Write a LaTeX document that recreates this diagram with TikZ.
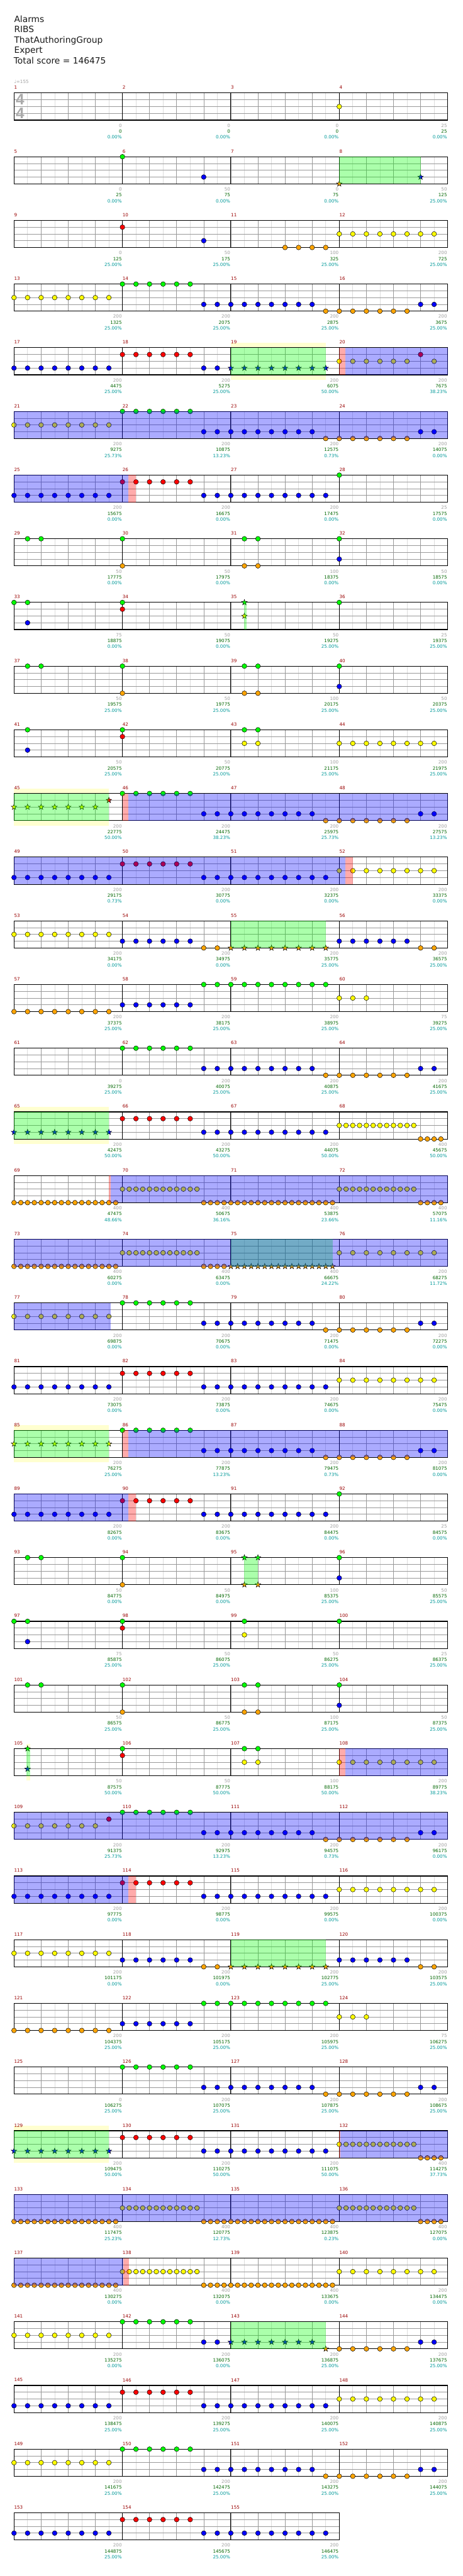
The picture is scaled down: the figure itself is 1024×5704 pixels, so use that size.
\documentclass[tikz,border=0pt]{standalone}
\usepackage{fontspec}
\setmainfont{DejaVu Sans}
\newfontfamily\tsf{Liberation Sans}
\definecolor{ln0}{RGB}{0,255,0}
\definecolor{ln1}{RGB}{255,0,0}
\definecolor{ln2}{RGB}{255,255,0}
\definecolor{ln3}{RGB}{0,0,255}
\definecolor{ln4}{RGB}{255,165,0}
\definecolor{mnred}{RGB}{153,0,0}
\definecolor{sgray}{RGB}{160,160,160}
\definecolor{cgrn}{RGB}{0,102,0}
\definecolor{pteal}{RGB}{0,153,153}
\definecolor{lgr}{RGB}{221,221,221}
\definecolor{mgr}{RGB}{153,153,153}
\definecolor{ybc}{RGB}{255,255,208}
\definecolor{tsc}{RGB}{170,170,170}
\definecolor{ovg}{RGB}{0,255,0}
\definecolor{ovb}{RGB}{0,0,255}
\definecolor{ovr}{RGB}{255,0,0}
\newcommand\lf{\fontsize{5}{6}\selectfont}
\tikzset{
  notec/.style={draw=black,line width=0.35pt},
  lgrid/.style={draw=lgr,line width=0.5pt},
  mgrid/.style={draw=mgr,line width=0.5pt},
  barline/.style={draw=black,line width=0.75pt},
  mnum/.style={font=\lf,text=mnred,inner sep=0pt,anchor=west},
  sa/.style={font=\lf,text=sgray,inner sep=0pt,anchor=east},
  sb/.style={font=\lf,text=cgrn,inner sep=0pt,anchor=east},
  sc/.style={font=\lf,text=pteal,inner sep=0pt,anchor=east},
  ttl/.style={font=\fontsize{9.6}{11.5}\selectfont,text=black!90,inner sep=0pt,anchor=base west},
  tsig/.style={font=\tsf\bfseries\fontsize{17}{17}\selectfont,text=tsc,inner sep=0pt},
}
\newcommand\nts[2]{\foreach \p in {#2}{\filldraw[notec,fill=ln#1] ({31+30*\p},{15*#1}) circle[radius=5.3];}}
\newcommand\sts[2]{\foreach \p in {#2}{\filldraw[notec,fill=ln#1,shift={({31+30*\p},{15*#1})}] (-90:6.5)--(-54:2.6)--(-18:6.5)--(18:2.6)--(54:6.5)--(90:2.6)--(126:6.5)--(162:2.6)--(198:6.5)--(234:2.6)--cycle;}}
\newcommand\ov[3]{\fill[#1,opacity=.33] (#2,0) rectangle (#3,60);}
\newcommand\yb[2]{\fill[ybc] (#1,-11) rectangle (#2,71);}
\newcommand\mystaff[1]{%
  \fill[white] (31,0) rectangle ({31+30*#1},60);
  \foreach \p in {1,3,...,#1}{\draw[lgrid] ({31+30*\p},0) -- ({31+30*\p},60);}
  \foreach \p in {2,4,...,#1}{\draw[mgrid] ({31+30*\p},0) -- ({31+30*\p},60);}
  \foreach \l in {1,2,3}{\draw[mgrid] (31,{15*\l}) -- ({31+30*#1},{15*\l});}
  \foreach \p in {8,16,...,#1}{\draw[barline] ({31+30*\p},0) -- ({31+30*\p},60);}
  \draw[barline] (31,0) rectangle ({31+30*#1},60);}
\newcommand\labs[2]{\foreach \j/\va/\vb/\vc in {#2}{%
  \pgfmathtruncatemacro\mm{4*#1+\j+1}%
  \node[mnum] (mn\mm) at ({31+240*\j},-12) {\mm};
  \node[sa] (sa\mm) at ({30+240*(\j+1)},72) {\va};
  \node[sb] (sb\mm) at ({30+240*(\j+1)},85) {\vb};
  \node[sc] (sc\mm) at ({30+240*(\j+1)},98) {\vc\%};}}
\begin{document}
\begin{tikzpicture}[x=0.5pt,y=-0.5pt]
\useasboundingbox (0,0) rectangle (1024,5704);
\fill[white] (0,0) rectangle (1024,5704);
\node[ttl] (t1) at (31,49) {Alarms};
\node[ttl] (t2) at (31,72) {RIBS};
\node[ttl] (t3) at (31,95) {ThatAuthoringGroup};
\node[ttl] (t4) at (31,118) {Expert};
\node[ttl] (t5) at (30,141) {Total score = 146475};
\node[font=\lf,text=sgray,inner sep=0pt,anchor=west] (tempo) at (31,181) {♩=155};
% row 0
\begin{scope}[shift={(0,206+141*0)}]
\mystaff{32}
\node[tsig] (tsa) at (44.5,14.5) {4};
\node[tsig] (tsb) at (44.5,45) {4};
\nts2{24}
\labs{0}{0/0/0/0.00,1/0/0/0.00,2/0/0/0.00,3/25/25/0.00}
\end{scope}
% row 1
\begin{scope}[shift={(0,206+141*1)}]
\mystaff{32}
\nts0{8}\nts3{14}\sts4{24}\sts3{30}
\ov{ovg}{751}{931}
\labs{1}{0/0/25/0.00,1/50/75/0.00,2/0/75/0.00,3/50/125/25.00}
\end{scope}
% row 2
\begin{scope}[shift={(0,206+141*2)}]
\mystaff{32}
\nts1{8}\nts3{14}\nts4{20,...,23}\nts2{24,...,31}
\labs{2}{0/0/125/25.00,1/50/175/25.00,2/100/325/25.00,3/200/725/25.00}
\end{scope}
% row 3
\begin{scope}[shift={(0,206+141*3)}]
\mystaff{32}
\nts2{0,...,7}\nts0{8,...,13}\nts3{14,...,22}\nts4{23,...,29}\nts3{30,31}
\labs{3}{0/200/1325/25.00,1/200/2075/25.00,2/200/2875/25.00,3/200/3675/25.00}
\end{scope}
% row 4
\begin{scope}[shift={(0,206+141*4)}]
\yb{511}{721}
\mystaff{32}
\nts3{0,...,7}\nts1{8,...,13}\nts3{14,15}\sts3{16,...,23}\nts2{24,...,29}\nts2{31}\nts1{30}
\ov{ovg}{511}{721}\ov{ovr}{751}{764}\ov{ovb}{764}{991}
\labs{4}{0/200/4475/25.00,1/200/5275/25.00,2/200/6075/50.00,3/200/7675/38.23}
\end{scope}
% row 5
\begin{scope}[shift={(0,206+141*5)}]
\mystaff{32}
\nts2{0,...,7}\nts0{8,...,13}\nts3{14,...,22}\nts4{23,...,29}\nts3{30,31}
\ov{ovb}{31}{991}
\labs{5}{0/200/9275/25.73,1/200/10875/13.23,2/200/12575/0.73,3/200/14075/0.00}
\end{scope}
% row 6
\begin{scope}[shift={(0,206+141*6)}]
\mystaff{32}
\nts3{0,...,7}\nts1{8,...,13}\nts3{14,...,23}\nts0{24}
\ov{ovb}{31}{284}\ov{ovr}{284}{301}
\labs{6}{0/200/15675/0.00,1/200/16675/0.00,2/200/17475/0.00,3/25/17575/0.00}
\end{scope}
% row 7
\begin{scope}[shift={(0,206+141*7)}]
\mystaff{32}
\nts0{1,2,8,17,18,24}\nts4{8,17,18}\nts3{24}
\labs{7}{0/50/17775/0.00,1/50/17975/0.00,2/100/18375/0.00,3/50/18575/0.00}
\end{scope}
% row 8
\begin{scope}[shift={(0,206+141*8)}]
\mystaff{32}
\nts0{0,1,8,24}\nts3{1}\nts1{8}\sts0{17}\sts2{17}
\ov{ovg}{540}{546}
\labs{8}{0/75/18875/0.00,1/50/19075/0.00,2/50/19275/25.00,3/25/19375/25.00}
\end{scope}
% row 9
\begin{scope}[shift={(0,206+141*9)}]
\mystaff{32}
\nts0{1,2,8,17,18,24}\nts4{8,17,18}\nts3{24}
\labs{9}{0/50/19575/25.00,1/50/19775/25.00,2/100/20175/25.00,3/50/20375/25.00}
\end{scope}
% row 10
\begin{scope}[shift={(0,206+141*10)}]
\mystaff{32}
\nts0{1,8,17,18}\nts3{1}\nts1{8}\nts2{17,18}\nts2{24,...,31}
\labs{10}{0/50/20575/25.00,1/50/20775/25.00,2/100/21175/25.00,3/200/21975/25.00}
\end{scope}
% row 11
\begin{scope}[shift={(0,206+141*11)}]
\yb{31}{241}
\mystaff{32}
\sts2{0,...,6}\sts1{7}\nts0{8,...,13}\nts3{14,...,22}\nts4{23,...,29}\nts3{30,31}
\ov{ovg}{31}{241}\ov{ovr}{271}{284}\ov{ovb}{284}{991}
\labs{11}{0/200/22775/50.00,1/200/24475/38.23,2/200/25975/25.73,3/200/27575/13.23}
\end{scope}
% row 12
\begin{scope}[shift={(0,206+141*12)}]
\mystaff{32}
\nts3{0,...,7}\nts1{8,...,13}\nts3{14,...,23}\nts2{24,...,31}
\ov{ovb}{31}{764}\ov{ovr}{764}{781}
\labs{12}{0/200/29175/0.73,1/200/30775/0.00,2/200/32375/0.00,3/200/33375/0.00}
\end{scope}
% row 13
\begin{scope}[shift={(0,206+141*13)}]
\mystaff{32}
\nts2{0,...,7}\nts3{8,...,13}\nts4{14,15}\sts4{16,...,23}\nts3{24,...,29}\nts4{30,31}
\ov{ovg}{511}{721}
\labs{13}{0/200/34175/0.00,1/200/34975/0.00,2/200/35775/25.00,3/200/36575/25.00}
\end{scope}
% row 14
\begin{scope}[shift={(0,206+141*14)}]
\mystaff{32}
\nts4{0,...,7}\nts3{8,...,13}\nts0{14,...,23}\nts2{24,25,26}
\labs{14}{0/200/37375/25.00,1/200/38175/25.00,2/200/38975/25.00,3/75/39275/25.00}
\end{scope}
% row 15
\begin{scope}[shift={(0,206+141*15)}]
\mystaff{32}
\nts0{8,...,13}\nts3{14,...,22}\nts4{23,...,29}\nts3{30,31}
\labs{15}{0/0/39275/25.00,1/200/40075/25.00,2/200/40875/25.00,3/200/41675/25.00}
\end{scope}
% row 16
\begin{scope}[shift={(0,206+141*16)}]
\yb{31}{241}
\mystaff{32}
\sts3{0,...,7}\nts1{8,...,13}\nts3{14,...,23}\nts2{24,24.5,...,29.5}\nts4{30,30.5,...,31.5}
\ov{ovg}{31}{241}
\labs{16}{0/200/42475/50.00,1/200/43275/50.00,2/200/44075/50.00,3/400/45675/50.00}
\end{scope}
% row 17
\begin{scope}[shift={(0,206+141*17)}]
\mystaff{32}
\nts4{0,0.5,...,7.5}\nts2{8,8.5,...,13.5}\nts4{14,14.5,...,23.5}\nts2{24,24.5,...,29.5}\nts4{30,30.5,...,31.5}
\ov{ovr}{241}{245}\ov{ovb}{245}{991}
\labs{17}{0/400/47475/48.66,1/400/50675/36.16,2/400/53875/23.66,3/400/57075/11.16}
\end{scope}
% row 18
\begin{scope}[shift={(0,206+141*18)}]
\mystaff{32}
\nts4{0,0.5,...,7.5}\nts2{8,8.5,...,13.5}\nts4{14,14.5,...,15.5}\sts4{16,16.5,...,23.5}\nts2{24,...,31}
\ov{ovg}{511}{736}\ov{ovb}{31}{991}
\labs{18}{0/400/60275/0.00,1/400/63475/0.00,2/400/66675/24.22,3/200/68275/11.72}
\end{scope}
% row 19
\begin{scope}[shift={(0,206+141*19)}]
\mystaff{32}
\nts2{0,...,7}\nts0{8,...,13}\nts3{14,...,22}\nts4{23,...,29}\nts3{30,31}
\ov{ovb}{31}{245}
\labs{19}{0/200/69875/0.00,1/200/70675/0.00,2/200/71475/0.00,3/200/72275/0.00}
\end{scope}
% row 20
\begin{scope}[shift={(0,206+141*20)}]
\mystaff{32}
\nts3{0,...,7}\nts1{8,...,13}\nts3{14,...,23}\nts2{24,...,31}
\labs{20}{0/200/73075/0.00,1/200/73875/0.00,2/200/74675/0.00,3/200/75475/0.00}
\end{scope}
% row 21
\begin{scope}[shift={(0,206+141*21)}]
\yb{31}{241}
\mystaff{32}
\sts2{0,...,7}\nts0{8,...,13}\nts3{14,...,22}\nts4{23,...,29}\nts3{30,31}
\ov{ovg}{31}{241}\ov{ovr}{271}{284}\ov{ovb}{284}{991}
\labs{21}{0/200/76275/25.00,1/200/77875/13.23,2/200/79475/0.73,3/200/81075/0.00}
\end{scope}
% row 22
\begin{scope}[shift={(0,206+141*22)}]
\mystaff{32}
\nts3{0,...,7}\nts1{8,...,13}\nts3{14,...,23}\nts0{24}
\ov{ovb}{31}{284}\ov{ovr}{284}{301}
\labs{22}{0/200/82675/0.00,1/200/83675/0.00,2/200/84475/0.00,3/25/84575/0.00}
\end{scope}
% row 23
\begin{scope}[shift={(0,206+141*23)}]
\mystaff{32}
\nts0{1,2,8,24}\nts4{8}\sts0{17,18}\sts4{17,18}\nts3{24}
\ov{ovg}{541}{571}
\labs{23}{0/50/84775/0.00,1/50/84975/0.00,2/100/85375/25.00,3/50/85575/25.00}
\end{scope}
% row 24
\begin{scope}[shift={(0,206+141*24)}]
\mystaff{32}
\nts0{0,1,8,17,24}\nts3{1}\nts1{8}\nts2{17}
\labs{24}{0/75/85875/25.00,1/50/86075/25.00,2/50/86275/25.00,3/25/86375/25.00}
\end{scope}
% row 25
\begin{scope}[shift={(0,206+141*25)}]
\mystaff{32}
\nts0{1,2,8,17,18,24}\nts4{8,17,18}\nts3{24}
\labs{25}{0/50/86575/25.00,1/50/86775/25.00,2/100/87175/25.00,3/50/87375/25.00}
\end{scope}
% row 26
\begin{scope}[shift={(0,206+141*26)}]
\yb{58}{67}
\mystaff{32}
\sts0{1}\sts3{1}\nts0{8,17,18}\nts1{8}\nts2{17,18}\nts2{24,...,31}
\ov{ovg}{58}{67}\ov{ovr}{751}{764}\ov{ovb}{764}{991}
\labs{26}{0/50/87575/50.00,1/50/87775/50.00,2/100/88175/50.00,3/200/89775/38.23}
\end{scope}
% row 27
\begin{scope}[shift={(0,206+141*27)}]
\mystaff{32}
\nts2{0,...,6}\nts1{7}\nts0{8,...,13}\nts3{14,...,22}\nts4{23,...,29}\nts3{30,31}
\ov{ovb}{31}{991}
\labs{27}{0/200/91375/25.73,1/200/92975/13.23,2/200/94575/0.73,3/200/96175/0.00}
\end{scope}
% row 28
\begin{scope}[shift={(0,206+141*28)}]
\mystaff{32}
\nts3{0,...,7}\nts1{8,...,13}\nts3{14,...,23}\nts2{24,...,31}
\ov{ovb}{31}{284}\ov{ovr}{284}{301}
\labs{28}{0/200/97775/0.00,1/200/98775/0.00,2/200/99575/0.00,3/200/100375/0.00}
\end{scope}
% row 29
\begin{scope}[shift={(0,206+141*29)}]
\mystaff{32}
\nts2{0,...,7}\nts3{8,...,13}\nts4{14,15}\sts4{16,...,23}\nts3{24,...,29}\nts4{30,31}
\ov{ovg}{511}{721}
\labs{29}{0/200/101175/0.00,1/200/101975/0.00,2/200/102775/25.00,3/200/103575/25.00}
\end{scope}
% row 30
\begin{scope}[shift={(0,206+141*30)}]
\mystaff{32}
\nts4{0,...,7}\nts3{8,...,13}\nts0{14,...,23}\nts2{24,25,26}
\labs{30}{0/200/104375/25.00,1/200/105175/25.00,2/200/105975/25.00,3/75/106275/25.00}
\end{scope}
% row 31
\begin{scope}[shift={(0,206+141*31)}]
\mystaff{32}
\nts0{8,...,13}\nts3{14,...,22}\nts4{23,...,29}\nts3{30,31}
\labs{31}{0/0/106275/25.00,1/200/107075/25.00,2/200/107875/25.00,3/200/108675/25.00}
\end{scope}
% row 32
\begin{scope}[shift={(0,206+141*32)}]
\yb{31}{241}
\mystaff{32}
\sts3{0,...,7}\nts1{8,...,13}\nts3{14,...,23}\nts2{24,24.5,...,29.5}\nts4{30,30.5,...,31.5}
\ov{ovg}{31}{241}\ov{ovr}{751}{754}\ov{ovb}{754}{991}
\labs{32}{0/200/109475/50.00,1/200/110275/50.00,2/200/111075/50.00,3/400/114275/37.73}
\end{scope}
% row 33
\begin{scope}[shift={(0,206+141*33)}]
\mystaff{32}
\nts4{0,0.5,...,7.5}\nts2{8,8.5,...,13.5}\nts4{14,14.5,...,23.5}\nts2{24,24.5,...,29.5}\nts4{30,30.5,...,31.5}
\ov{ovb}{31}{991}
\labs{33}{0/400/117475/25.23,1/400/120775/12.73,2/400/123875/0.23,3/400/127075/0.00}
\end{scope}
% row 34
\begin{scope}[shift={(0,206+141*34)}]
\mystaff{32}
\nts4{0,0.5,...,7.5}\nts2{8,8.5,...,13.5}\nts4{14,14.5,...,23.5}\nts2{24,...,31}
\ov{ovb}{31}{273}\ov{ovr}{273}{286}
\labs{34}{0/400/130275/0.00,1/400/132075/0.00,2/400/133675/0.00,3/200/134475/0.00}
\end{scope}
% row 35
\begin{scope}[shift={(0,206+141*35)}]
\mystaff{32}
\nts2{0,...,7}\nts0{8,...,13}\nts3{14,15}\sts3{16,...,22}\sts4{23}\nts4{24,...,29}\nts3{30,31}
\ov{ovg}{511}{721}
\labs{35}{0/200/135275/0.00,1/200/136075/0.00,2/200/136875/25.00,3/200/137675/25.00}
\end{scope}
% row 36
\begin{scope}[shift={(0,206+141*36)}]
\mystaff{32}
\nts3{0,...,7}\nts1{8,...,13}\nts3{14,...,23}\nts2{24,...,31}
\labs{36}{0/200/138475/25.00,1/200/139275/25.00,2/200/140075/25.00,3/200/140875/25.00}
\end{scope}
% row 37
\begin{scope}[shift={(0,206+141*37)}]
\mystaff{32}
\nts2{0,...,7}\nts0{8,...,13}\nts3{14,...,22}\nts4{23,...,29}\nts3{30,31}
\labs{37}{0/200/141675/25.00,1/200/142475/25.00,2/200/143275/25.00,3/200/144075/25.00}
\end{scope}
% row 38
\begin{scope}[shift={(0,206+141*38)}]
\mystaff{24}
\nts3{0,...,7}\nts1{8,...,13}\nts3{14,...,23}
\labs{38}{0/200/144875/25.00,1/200/145675/25.00,2/200/146475/25.00}
\end{scope}
\end{tikzpicture}
\end{document}
